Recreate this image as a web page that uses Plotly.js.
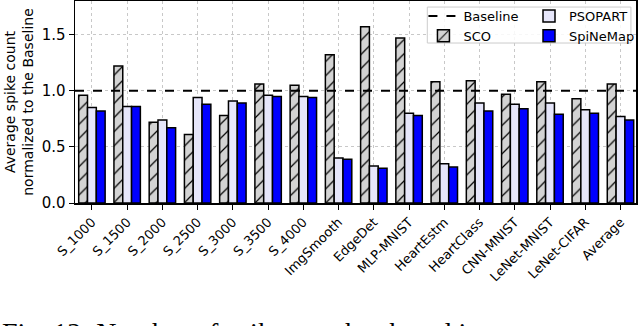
<!DOCTYPE html>
<html>
<head>
<meta charset="utf-8">
<script src="https://cdn.plot.ly/plotly-3.0.1.min.js"></script>
<style>
    html, body { margin: 0; padding: 0; background: #fff; }
    #chart { width: 640px; height: 326px; }
</style>
</head>
<body>
<div id="chart"></div>
<script>
// Benchmarks along the x axis
const categories = [
    "S_1000", "S_1500", "S_2000", "S_2500", "S_3000", "S_3500", "S_4000",
    "ImgSmooth", "EdgeDet", "MLP-MNIST", "HeartEstm", "HeartClass",
    "CNN-MNIST", "LeNet-MNIST", "LeNet-CIFAR", "Average"
];

// Spike counts normalized to the baseline
const scoValues = [0.96, 1.22, 0.72, 0.61, 0.78, 1.06, 1.05, 1.32, 1.57, 1.47, 1.08, 1.09, 0.97, 1.08, 0.93, 1.06];
const psopartValues = [0.85, 0.86, 0.74, 0.94, 0.91, 0.96, 0.95, 0.40, 0.33, 0.80, 0.35, 0.89, 0.88, 0.89, 0.83, 0.77];
const spinemapValues = [0.82, 0.86, 0.67, 0.88, 0.89, 0.95, 0.94, 0.39, 0.31, 0.78, 0.32, 0.82, 0.84, 0.79, 0.80, 0.74];

const baselineValue = 1.0;
const yTickValues = [0, 0.5, 1.0, 1.5];
const yTickLabels = ["0.0", "0.5", "1.0", "1.5"];

const xRange = [-0.48, 15.44];
const positions = categories.map((_, i) => i);

const barLine = { color: "#000", width: 1.5 };

const traces = [
    {
        type: "scatter",
        mode: "lines",
        name: "Baseline",
        x: xRange,
        y: [baselineValue, baselineValue],
        line: { color: "#000", width: 2, dash: "dash" },
        legend: "legend",
        hoverinfo: "skip"
    },
    {
        type: "bar",
        name: "SCO",
        x: positions,
        y: scoValues,
        marker: {
            color: "#d3d3d3",
            line: barLine,
            pattern: { shape: "/", fgcolor: "#000", bgcolor: "#d3d3d3", size: 10, solidity: 0.12 }
        },
        legend: "legend"
    },
    {
        type: "bar",
        name: "PSOPART",
        x: positions,
        y: psopartValues,
        marker: { color: "#e6e6fa", line: barLine },
        legend: "legend2"
    },
    {
        type: "bar",
        name: "SpiNeMap",
        x: positions,
        y: spinemapValues,
        marker: { color: "#0000ff", line: barLine },
        legend: "legend2"
    }
];

const legendStyle = {
    orientation: "v",
    y: 1.0,
    yanchor: "top",
    xanchor: "left",
    traceorder: "normal",
    bgcolor: "rgba(0,0,0,0)",
    borderwidth: 0,
    tracegroupgap: 0,
    font: { size: 13 }
};

const layout = {
    width: 640,
    height: 326,
    margin: { l: 75, r: 3, t: 1, b: 123 },
    paper_bgcolor: "#fff",
    plot_bgcolor: "#fff",
    font: { family: "DejaVu Sans", color: "#000", size: 13 },
    barmode: "group",
    bargap: 0.25,
    bargroupgap: 0,
    showlegend: true,
    legend: Object.assign({}, legendStyle, { x: 0.62 }),
    legend2: Object.assign({}, legendStyle, { x: 0.808 }),
    xaxis: {
        range: xRange,
        tickmode: "array",
        tickvals: positions,
        ticktext: categories,
        tickangle: -45,
        ticks: "outside",
        ticklen: 5,
        tickcolor: "#000",
        showline: true,
        linecolor: "#000",
        linewidth: 1.5,
        mirror: true,
        showgrid: true,
        gridcolor: "#c8c8c8",
        griddash: "dot",
        zeroline: false,
        tickfont: { size: 13 }
    },
    yaxis: {
        range: [0, 1.8],
        tickmode: "array",
        tickvals: yTickValues,
        ticktext: yTickLabels,
        ticks: "outside",
        ticklen: 5,
        tickcolor: "#000",
        showline: true,
        linecolor: "#000",
        linewidth: 1.5,
        mirror: true,
        showgrid: true,
        gridcolor: "#c8c8c8",
        griddash: "dot",
        zeroline: false,
        tickfont: { size: 15 },
        title: {
            text: "Average spike count<br>normalized to the Baseline",
            font: { size: 14 },
            standoff: 4
        }
    },
    shapes: [
        // legend frame
        {
            type: "rect",
            xref: "paper",
            yref: "paper",
            x0: 0.628,
            x1: 0.991,
            y0: 0.792,
            y1: 0.970,
            layer: "above",
            fillcolor: "rgba(255,255,255,0.85)",
            line: { color: "#cccccc", width: 1 }
        }
    ],
    annotations: [
        {
            text: "Fig. 12: Number of spikes on the shared interconnect normalized",
            xref: "paper",
            yref: "paper",
            x: -75 / 562,
            y: -0.556,
            xanchor: "left",
            yanchor: "top",
            showarrow: false,
            font: { family: "Liberation Serif", size: 28, color: "#000" }
        }
    ]
};

Plotly.newPlot("chart", traces, layout, { displayModeBar: false, staticPlot: true });
</script>
</body>
</html>
